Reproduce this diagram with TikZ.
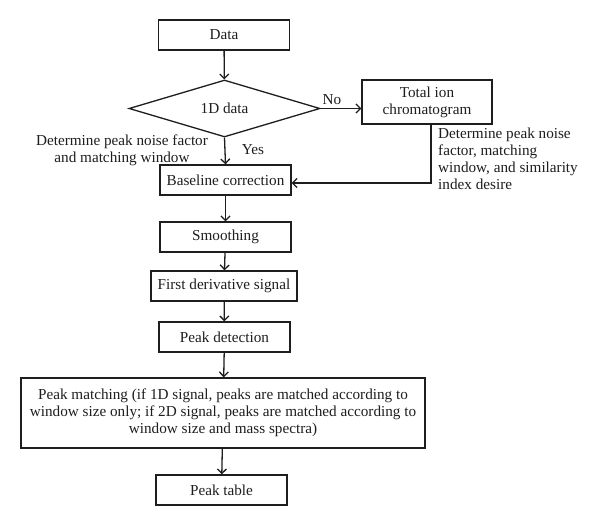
\documentclass[tikz,border=0pt]{standalone}
\usepackage{fontspec}
\setmainfont{Liberation Serif}
\usetikzlibrary{shapes.geometric,arrows.meta}
\definecolor{ink}{RGB}{30,30,30}
\begin{document}
\begin{tikzpicture}[x=1pt,y=-1pt,
  box/.style={draw=ink,text=ink,line width=1.3pt,inner sep=0pt,align=center,font=\fontsize{15.2}{16.8}\selectfont},
  conn/.style={draw=ink,line width=1.3pt,-{Straight Barb[length=4.5pt,width=9pt,line width=1.3pt]}},
  lbl/.style={text=ink,font=\fontsize{15.2}{17}\selectfont,inner sep=0pt}]
\useasboundingbox[fill=white] (0,0) rectangle (600,526);
\node[box,minimum width=131pt,minimum height=30pt] (data) at (224,35) {Data};
\node[box,diamond,minimum width=191pt,minimum height=57pt,aspect=3.35] (dia) at (224.5,108.5) {1D data};
\node[box,minimum width=130pt,minimum height=44pt] (tic) at (427,102) {Total ion\\chromatogram};
\node[box,minimum width=131pt,minimum height=30pt] (base) at (225.5,180) {Baseline correction};
\node[box,minimum width=131pt,minimum height=30pt] (smooth) at (225.5,237) {Smoothing};
\node[box,minimum width=146pt,minimum height=30pt] (deriv) at (224,286) {First derivative signal};
\node[box,minimum width=131pt,minimum height=30pt] (peak) at (224.5,337) {Peak detection};
\node[box,minimum width=404pt,minimum height=70pt] (match) at (223,413) {Peak matching (if 1D signal, peaks are matched according to\\window size only; if 2D signal, peaks are matched according to\\window size and mass spectra)};
\node[box,minimum width=131pt,minimum height=30pt] (table) at (221.5,490) {Peak table};

\draw[conn] (data) -- (dia);
\draw[conn] (dia.east) -- (dia.east -| tic.west);
\draw[conn] (dia.south) -- (base.north);
\draw[conn] ([xshift=4pt]tic.south) |- ([yshift=-3pt]base.east);
\draw[conn] (base) -- (smooth);
\draw[conn] (smooth) -- (deriv);
\draw[conn] (deriv) -- (peak);
\draw[conn] (peak) -- (match);
\draw[conn] (match) -- (table);

\node[lbl] (no) at (332,100) {No};
\node[lbl] (yes) at (253,150) {Yes};
\node[lbl,align=center] (lleft) at (122,150) {Determine peak noise factor\\and matching window};
\node[lbl,align=left,anchor=north west] (lright) at (438,128) {Determine peak noise\\factor, matching\\window, and similarity\\index desire};
\end{tikzpicture}
\end{document}
